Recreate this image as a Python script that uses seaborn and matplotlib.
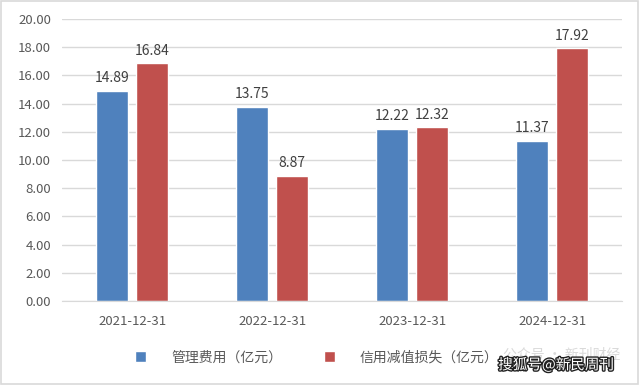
import matplotlib
matplotlib.use('Agg')
import matplotlib.pyplot as plt
import matplotlib.patheffects as pe
import pandas as pd
import seaborn as sns

dates = ['2021-12-31', '2022-12-31', '2023-12-31', '2024-12-31']
admin_cost = [14.89, 13.75, 12.22, 11.37]
credit_loss = [16.84, 8.87, 12.32, 17.92]
series_names = ['管理费用（亿元）', '信用减值损失（亿元）']
colors = ['#4F81BD', '#C0504D']

df = pd.DataFrame({
    'date': dates * 2,
    'value': admin_cost + credit_loss,
    'series': [series_names[0]] * 4 + [series_names[1]] * 4,
})

sns.set_style('white')
plt.rcParams['font.family'] = ['Noto Sans CJK SC', 'DejaVu Sans']

fig = plt.figure(figsize=(6.4, 3.85), dpi=100)
ax = fig.add_axes([0.097, 0.218, 0.875, 0.733])

sns.barplot(data=df, x='date', y='value', hue='series', palette=colors,
            width=0.57, gap=0.18, ax=ax, legend=True, saturation=1)

ax.set_ylim(0, 20)
ax.set_yticks(range(0, 21, 2))
ax.set_yticklabels([f'{v:.2f}' for v in range(0, 21, 2)])
ax.yaxis.grid(True, color='#D9D9D9', linewidth=1)
ax.set_axisbelow(True)
for s in ['top', 'right', 'left']:
    ax.spines[s].set_visible(False)
ax.spines['bottom'].set_color('#D9D9D9')
ax.tick_params(axis='both', length=0, colors='#595959', labelsize=9.5)
ax.tick_params(axis='x', pad=10)
ax.tick_params(axis='y', pad=8)
ax.set_xlabel('')
ax.set_ylabel('')

for cont in ax.containers:
    ax.bar_label(cont, fmt='%.2f', padding=4, fontsize=10, color='#404040')

ax.legend(loc='upper center', bbox_to_anchor=(0.455, -0.13), ncol=2,
          frameon=False, fontsize=10, labelcolor='#595959',
          handlelength=0.8, handleheight=0.8, handletextpad=1.8,
          columnspacing=3.0)

# faint watermark behind the legend, as in the source image
fig.text(0.97, 0.078, '公众号 · 新刊财经', ha='right', va='center',
         fontsize=10, color='#D0D0D0', alpha=0.8)
fig.text(0.96, 0.052, '搜狐号@新民周刊', ha='right', va='center',
         fontsize=10.5, color='white',
         path_effects=[pe.withStroke(linewidth=2.0, foreground='#222222')])

fig.patches.append(plt.Rectangle((0.002, 0.003), 0.995, 0.994,
                                 transform=fig.transFigure, fill=False,
                                 edgecolor='#D9D9D9', linewidth=1.2))

fig.savefig('out.png', dpi=100)
